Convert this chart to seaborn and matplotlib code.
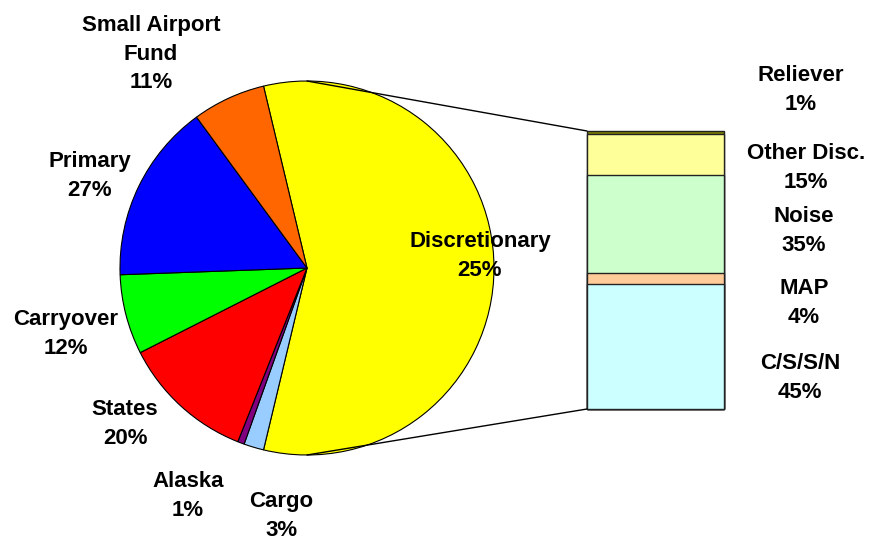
import matplotlib
matplotlib.use("Agg")
import matplotlib.pyplot as plt
from matplotlib.patches import ConnectionPatch
import seaborn as sns
import numpy as np

# pie slices (clockwise starting with the split-out slice)
pie_names = ["Discretionary", "Cargo", "Alaska", "States", "Carryover", "Primary", "Small Airport\nFund"]
pie_pct = [25, 3, 1, 20, 12, 27, 11]
pie_colors = ["#FFFF00", "#99CCFF", "#800080", "#FF0000", "#00FF00", "#0000FF", "#FF6600"]

# bar of pie (bottom to top)
bar_names = ["C/S/S/N", "MAP", "Noise", "Other Disc.", "Reliever"]
bar_pct = [45, 4, 35, 15, 1]
bar_colors = ["#CCFFFF", "#FFCC99", "#CCFFCC", "#FFFF99", "#808000"]

sns.set_theme(style="white")
plt.rcParams["font.family"] = ["Liberation Sans", "DejaVu Sans"]

W, H = 869, 542
fig = plt.figure(figsize=(W / 100, H / 100), dpi=100)

def px_axes(x0, y0, x1, y1):
    return fig.add_axes([x0 / W, 1 - y1 / H, (x1 - x0) / W, (y1 - y0) / H])

# pie
ax_pie = px_axes(120, 81, 494, 455)
sizes = [sum(bar_pct)] + pie_pct[1:]
start = 360 * sizes[0] / sum(sizes) / 2
wedges, _ = ax_pie.pie(sizes, colors=pie_colors, startangle=start, counterclock=False, radius=1,
                       wedgeprops=dict(edgecolor="black", linewidth=0.8))
for w in wedges:
    w.set_clip_on(False)
ax_pie.set_xlim(-1, 1)
ax_pie.set_ylim(-1, 1)
ax_pie.axis("off")

# stacked bar
ax_bar = px_axes(587, 131, 724, 409)
cum = np.cumsum(bar_pct)
for i in range(len(bar_pct) - 1, -1, -1):
    sns.barplot(x=[0], y=[cum[i]], color=bar_colors[i], saturation=1, width=1,
                edgecolor="#222222", linewidth=1, ax=ax_bar)
for p in ax_bar.patches:
    p.set_clip_on(False)
ax_bar.set_xlim(-0.5, 0.5)
ax_bar.set_ylim(0, 100)
ax_bar.axis("off")

# connector lines
for (px, py), (bx, by) in [((0, 1), (-0.5, 100)), ((0, -1), (-0.5, 0))]:
    con = ConnectionPatch(xyA=(px, py), coordsA=ax_pie.transData,
                          xyB=(bx, by), coordsB=ax_bar.transData,
                          color="black", linewidth=1)
    fig.add_artist(con)

# labels
pie_label_pos = [(480, 256), (281, 516), (188, 496), (125, 424), (66, 334), (90, 176), (151, 54)]
bar_label_pos = [(800, 378), (804, 303), (804, 231), (806, 168), (801, 90)]

def label(x, y, name, pct):
    fig.text(x / W, 1 - y / H, f"{name}\n{pct}%", ha="center", va="center",
             fontsize=16, fontweight="bold", linespacing=1.5, color="black")

for (x, y), n, p in zip(pie_label_pos, pie_names, pie_pct):
    label(x, y, n, p)
for (x, y), n, p in zip(bar_label_pos, bar_names, bar_pct):
    label(x, y, n, p)

fig.savefig("out.png", dpi=100)
